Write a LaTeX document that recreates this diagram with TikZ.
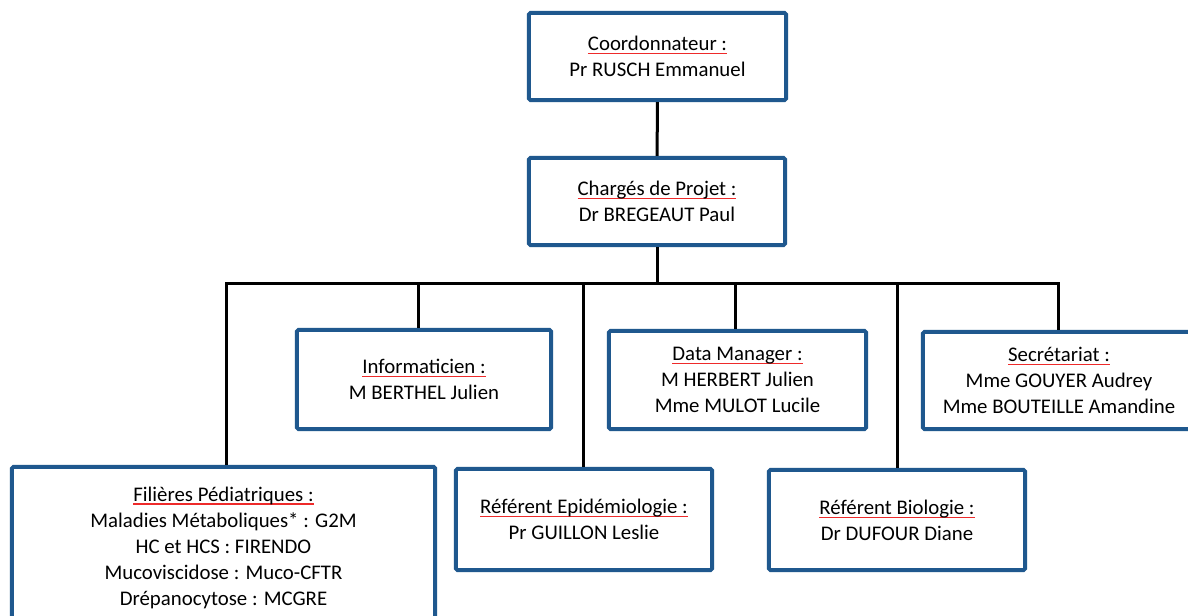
\documentclass[tikz,border=0pt]{standalone}
\usepackage{fontspec}
\setmainfont{Carlito}
\usepackage{xcolor}
\usetikzlibrary{positioning}

\definecolor{boxblue}{RGB}{31,88,142}
\definecolor{ulred}{RGB}{238,42,42}
\newsavebox{\ulbox}
\newcommand{\redul}[1]{\sbox{\ulbox}{#1}\leavevmode\rlap{\textcolor{ulred}{\rule[-2.5pt]{\wd\ulbox}{0.75pt}}}\usebox{\ulbox}}

\begin{document}
\begin{tikzpicture}[
    x=0.025cm, y=-0.025cm,
    unit/.style={rectangle, draw=boxblue, line width=0.1cm, rounded corners=1pt, fill=white, align=center, inner sep=0pt, font=\fontsize{14.8}{18.5}\selectfont},
    link/.style={line width=0.075cm, black},
]

%Background
\useasboundingbox[fill=white] (0, 0) rectangle (1188, 616);

% Top of the chart
\node[unit, minimum width=6.425cm, minimum height=2.175cm] (coord) at (657.5, 56.5) {\redul{Coordonnateur :}\\Pr RUSCH Emmanuel};
\node[unit, minimum width=6.4cm, minimum height=2.175cm] (charges) at (657, 201.5) {\redul{Chargés de Projet :}\\Dr BREGEAUT Paul};

% Upper row
\node[unit, minimum width=6.35cm, minimum height=2.475cm] (info) at (424, 379.5) {\redul{Informaticien :}\\M BERTHEL Julien};
\node[unit, minimum width=6.425cm, minimum height=2.45cm] (datam) at (737.5, 380) {\redul{Data Manager :}\\M HERBERT Julien\\Mme MULOT Lucile};
\node[unit, minimum width=6.8cm, minimum height=2.425cm] (secr) at (1059, 380.5) {\redul{Secrétariat :}\\Mme GOUYER Audrey\\Mme BOUTEILLE Amandine};

% Lower row
\node[unit, minimum width=10.575cm, minimum height=4.025cm] (filieres) at (223.5, 547.5) {\redul{Filières Pédiatriques :}\\Maladies Métaboliques* : G2M\\HC et HCS : FIRENDO\\Mucoviscidose : Muco-CFTR\\Drépanocytose : MCGRE};
\node[unit, minimum width=6.4cm, minimum height=2.525cm] (refepi) at (584, 519.5) {\redul{Référent Epidémiologie :}\\Pr GUILLON Leslie};
\node[unit, minimum width=6.4cm, minimum height=2.5cm] (refbio) at (897, 520) {\redul{Référent Biologie :}\\Dr DUFOUR Diane};

% Bus points
\coordinate (b1) at (226, 283);
\coordinate (b2) at (418, 283);
\coordinate (b3) at (583, 283);
\coordinate (b4) at (735, 283);
\coordinate (b5) at (897, 283);
\coordinate (b6) at (1058, 283);

% Lines
\draw[link] (coord) -- (charges);
\draw[link] (charges.south) -- (charges.south |- b1);
\draw[link] (b1 |- filieres.north) -- (b1) -- (b6) -- (b6 |- secr.north);
\draw[link] (b2) -- (b2 |- info.north);
\draw[link] (b3) -- (b3 |- refepi.north);
\draw[link] (b4) -- (b4 |- datam.north);
\draw[link] (b5) -- (b5 |- refbio.north);

\end{tikzpicture}
\end{document}
